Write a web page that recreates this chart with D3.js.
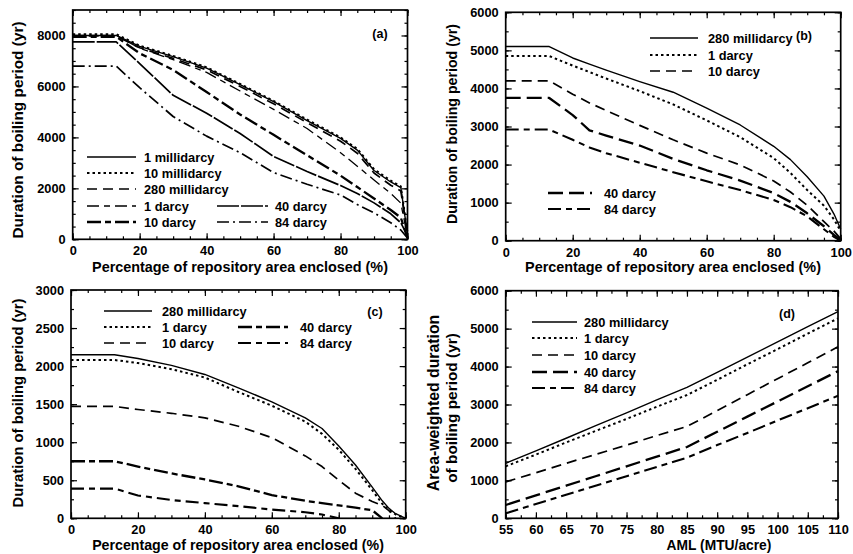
<!DOCTYPE html>
<html><head><meta charset="utf-8">
<script src="https://cdn.jsdelivr.net/npm/d3@7"></script>
<style>
body{margin:0;background:#fff}
svg{display:block}
text{font-family:"Liberation Sans",Arial,sans-serif;font-weight:bold;fill:#000}
</style>
</head><body>
<svg id="chart" width="853" height="554"></svg>
<script>
// ---------- DATA ----------
// Panel (a): x = percentage of repository area enclosed
const pctA   = [0,13,20,30,40,50,60,70,80,85,90,95,98,100];
const a1md   = [8000,8000,7570,7170,6720,6070,5400,4660,3960,3500,2700,2250,2030,200];
const a10md  = [8050,8050,7600,7200,6750,6100,5430,4700,4000,3550,2750,2300,2080,250];
const a280md = [7980,7980,7520,7100,6650,6000,5320,4580,3850,3380,2600,2120,1900,150];
const a1d    = [8000,8000,7500,7050,6550,5820,5100,4350,3400,2870,2330,1800,1420,100];
const a10d   = [7950,7950,7300,6650,5780,4900,4100,3300,2500,2050,1600,1150,850,50];
const a40d   = [7750,7750,6900,5650,4950,4150,3250,2660,2110,1800,1430,1000,650,130];
const a84d   = [6800,6800,5950,4820,4050,3400,2620,2160,1740,1365,1035,650,365,50];

// Panel (b)
const pctB   = [0,13,20,25,30,40,50,60,70,80,85,90,95,98,100];
const b280md = [5100,5100,4800,4640,4480,4180,3900,3480,3040,2480,2130,1680,1170,700,300];
const b1d    = [4850,4850,4600,4430,4260,3930,3580,3160,2720,2170,1780,1330,920,560,250];
const b10d   = [4200,4200,3850,3620,3420,3030,2650,2300,1990,1570,1280,930,500,250,50];
const b40d   = [3750,3750,3300,2900,2760,2500,2150,1850,1580,1250,1020,720,380,150,20];
const b84d   = [2920,2920,2650,2450,2300,2050,1800,1560,1330,1070,880,640,300,100,0];

// Panel (c)
const pctC   = [0,13,20,30,40,50,60,70,75,80,85,90,93,95,97,100];
const c280md = [2150,2150,2100,2010,1890,1715,1530,1320,1180,950,700,410,230,130,60,0];
const c1d    = [2080,2080,2040,1960,1850,1660,1480,1270,1110,900,650,370,190,110,50,0];
const c10d   = [1470,1470,1430,1380,1320,1210,1060,820,680,500,330,220,170,100,0,null];
const c40d   = [750,750,680,590,510,420,305,230,200,170,140,105,0,null,null,null];
const c84d   = [390,390,300,240,200,160,115,80,50,0,null,null,null,null,null,null];

// Panel (d): x = AML (MTU/acre)
const amlD   = [55,60,65,70,75,80,85,90,95,100,105,110];
const d280md = [1450,1780,2110,2450,2780,3120,3450,3850,4250,4650,5050,5450];
const d1d    = [1370,1680,2000,2310,2620,2940,3250,3650,4060,4460,4870,5270];
const d10d   = [960,1200,1450,1690,1930,2180,2420,2840,3260,3680,4100,4520];
const d40d   = [350,605,860,1115,1370,1625,1880,2280,2680,3080,3480,3880];
const d84d   = [130,375,620,865,1110,1355,1600,1930,2250,2580,2900,3230];

const xLabelPct = "Percentage of repository area enclosed (%)";
const yLabelDur = "Duration of boiling period (yr)";

// ---------- STYLES ----------
const ST = {
  solid:   {w:1.4, dash:null},
  solidB:  {w:1.7, dash:"22,2"},
  dot:     {w:2.0, dash:"2.5,3"},
  dash:    {w:1.7, dash:"10,6"},
  dashL:   {w:2.3, dash:"15,6"},
  lsThin:  {w:1.3, dash:"12,5,6,5"},
  lsThick: {w:2.3, dash:"14,4,6,4"},
  dashDot: {w:1.7, dash:"12,4,2,4"},
  lsMed:   {w:2.1, dash:"13,5,6,5"}
};

const svg = d3.select("#chart");

function panel(cfg){
  const g = svg.append("g");
  const x = d3.scaleLinear().domain(cfg.xDom).range([cfg.L, cfg.R]);
  const y = d3.scaleLinear().domain(cfg.yDom).range([cfg.B, cfg.T]);
  const rng = (d, s) => d3.range(d[0], d[1] + s/1000, s);
  const majX = rng(cfg.xDom, cfg.xMaj), minX = rng(cfg.xDom, cfg.xMin);
  const majY = rng(cfg.yDom, cfg.yMaj), minY = rng(cfg.yDom, cfg.yMin);

  const clean = sel => { sel.attr("font-family", null).attr("font-size", null);
    sel.select(".domain").remove(); sel.selectAll("line").attr("stroke-width", 1.2); };

  // minor ticks all sides
  g.append("g").attr("transform", `translate(0,${cfg.B})`).call(d3.axisBottom(x).tickValues(minX).tickSize(-3).tickFormat("")).call(clean);
  g.append("g").attr("transform", `translate(0,${cfg.T})`).call(d3.axisTop(x).tickValues(minX).tickSize(-3).tickFormat("")).call(clean);
  g.append("g").attr("transform", `translate(${cfg.L},0)`).call(d3.axisLeft(y).tickValues(minY).tickSize(-3).tickFormat("")).call(clean);
  g.append("g").attr("transform", `translate(${cfg.R},0)`).call(d3.axisRight(y).tickValues(minY).tickSize(-3).tickFormat("")).call(clean);
  // major ticks
  g.append("g").attr("transform", `translate(0,${cfg.B})`)
    .call(d3.axisBottom(x).tickValues(majX).tickSize(-6).tickPadding(7).tickFormat(d3.format("d"))).call(clean)
    .selectAll("text").style("font-size", "12.8px");
  g.append("g").attr("transform", `translate(0,${cfg.T})`).call(d3.axisTop(x).tickValues(majX).tickSize(-6).tickFormat("")).call(clean);
  g.append("g").attr("transform", `translate(${cfg.L},0)`)
    .call(d3.axisLeft(y).tickValues(majY).tickSize(-6).tickPadding(7).tickFormat(d3.format("d"))).call(clean)
    .selectAll("text").style("font-size", "12.8px");
  g.append("g").attr("transform", `translate(${cfg.R},0)`).call(d3.axisRight(y).tickValues(majY).tickSize(-6).tickFormat("")).call(clean);

  // frame
  g.append("rect").attr("x", cfg.L).attr("y", cfg.T).attr("width", cfg.R - cfg.L).attr("height", cfg.B - cfg.T)
    .attr("fill", "none").attr("stroke", "#000").attr("stroke-width", 1.7);

  // clip
  const cid = "clip" + cfg.id;
  svg.append("clipPath").attr("id", cid).append("rect")
    .attr("x", cfg.L).attr("y", cfg.T - 2).attr("width", cfg.R - cfg.L + 2).attr("height", cfg.B - cfg.T + 2);

  const line = d3.line().defined(d => d[1] != null).x(d => x(d[0])).y(d => y(d[1]));
  cfg.series.forEach(s => {
    const pts = cfg.xs.map((xv, i) => [xv, s.v[i]]);
    g.append("path").datum(pts).attr("d", line).attr("clip-path", `url(#${cid})`)
      .attr("fill", "none").attr("stroke", "#000").attr("stroke-width", s.st.w)
      .attr("stroke-dasharray", s.st.dash).attr("stroke-linejoin", "round");
  });

  // legend
  cfg.legend.forEach(l => {
    const s = cfg.series[l.i];
    g.append("line").attr("x1", l.x1).attr("x2", l.x2).attr("y1", l.y).attr("y2", l.y)
      .attr("stroke", "#000").attr("stroke-width", s.st.w).attr("stroke-dasharray", s.st.dash);
    g.append("text").attr("x", l.tx).attr("y", l.y).attr("dy", "0.36em").style("font-size", "12.8px").text(s.name);
  });

  // panel tag
  g.append("text").attr("x", cfg.tag[0]).attr("y", cfg.tag[1]).attr("text-anchor", "middle")
    .attr("dy", "0.36em").style("font-size", "12.5px").text(cfg.tagText);

  // axis labels
  g.append("text").attr("x", cfg.xl[0]).attr("y", cfg.xl[1]).attr("text-anchor", "middle")
    .style("font-size", cfg.xl[2] + "px").text(cfg.xLabel);
  cfg.yLabels.forEach(yl => {
    g.append("text").attr("transform", `translate(${yl[0]},${yl[1]}) rotate(-90)`)
      .attr("text-anchor", "middle").style("font-size", yl[3] + "px").text(yl[2]);
  });
}

panel({
  id: "a", L: 72.7, R: 407.5, T: 10, B: 239.3, xDom: [0,100], yDom: [0,9000],
  xMaj: 20, xMin: 5, yMaj: 2000, yMin: 500, xs: pctA,
  series: [
    {name: "1 millidarcy", v: a1md, st: ST.solid},
    {name: "10 millidarcy", v: a10md, st: ST.dot},
    {name: "280 millidarcy", v: a280md, st: ST.dash},
    {name: "1 darcy", v: a1d, st: ST.lsThin},
    {name: "10 darcy", v: a10d, st: ST.lsThick},
    {name: "40 darcy", v: a40d, st: ST.solidB},
    {name: "84 darcy", v: a84d, st: ST.dashDot}
  ],
  legend: [
    {i:0, x1:87, x2:136, y:157, tx:144}, {i:1, x1:87, x2:136, y:173, tx:144},
    {i:2, x1:87, x2:136, y:189, tx:144}, {i:3, x1:87, x2:136, y:206, tx:144},
    {i:4, x1:87, x2:136, y:222, tx:144}, {i:5, x1:217, x2:268, y:206, tx:275},
    {i:6, x1:217, x2:268, y:222, tx:275}
  ],
  tag: [380, 33], tagText: "(a)",
  xl: [240, 272, 14.4], xLabel: xLabelPct,
  yLabels: [[23, 130, yLabelDur, 15.4]]
});

panel({
  id: "b", L: 505.7, R: 840.7, T: 12.3, B: 240.7, xDom: [0,100], yDom: [0,6000],
  xMaj: 20, xMin: 5, yMaj: 1000, yMin: 500, xs: pctB,
  series: [
    {name: "280 millidarcy", v: b280md, st: ST.solid},
    {name: "1 darcy", v: b1d, st: ST.dot},
    {name: "10 darcy", v: b10d, st: ST.dash},
    {name: "40 darcy", v: b40d, st: ST.dashL},
    {name: "84 darcy", v: b84d, st: ST.lsMed}
  ],
  legend: [
    {i:0, x1:650, x2:698, y:38, tx:708}, {i:1, x1:650, x2:698, y:55, tx:708},
    {i:2, x1:650, x2:698, y:71, tx:708},
    {i:3, x1:548, x2:592, y:193, tx:604}, {i:4, x1:548, x2:592, y:209, tx:604}
  ],
  tag: [804, 35], tagText: "(b)",
  xl: [673, 272, 14.4], xLabel: xLabelPct,
  yLabels: [[457, 124, yLabelDur, 14.2]]
});

panel({
  id: "c", L: 71, R: 405.7, T: 290, B: 518.3, xDom: [0,100], yDom: [0,3000],
  xMaj: 20, xMin: 5, yMaj: 500, yMin: 250, xs: pctC,
  series: [
    {name: "280 millidarcy", v: c280md, st: ST.solid},
    {name: "1 darcy", v: c1d, st: ST.dot},
    {name: "10 darcy", v: c10d, st: ST.dash},
    {name: "40 darcy", v: c40d, st: ST.lsThick},
    {name: "84 darcy", v: c84d, st: ST.lsMed}
  ],
  legend: [
    {i:0, x1:104, x2:152, y:311, tx:162}, {i:1, x1:104, x2:152, y:327, tx:162},
    {i:2, x1:104, x2:152, y:343, tx:162},
    {i:3, x1:238, x2:288, y:327, tx:300}, {i:4, x1:238, x2:288, y:343, tx:300}
  ],
  tag: [375, 311], tagText: "(c)",
  xl: [238, 549.5, 14.2], xLabel: xLabelPct,
  yLabels: [[23, 403, yLabelDur, 14.8]]
});

panel({
  id: "d", L: 505.7, R: 838, T: 290.7, B: 518.3, xDom: [55,110], yDom: [0,6000],
  xMaj: 5, xMin: 2.5, yMaj: 1000, yMin: 500, xs: amlD,
  series: [
    {name: "280 millidarcy", v: d280md, st: ST.solid},
    {name: "1 darcy", v: d1d, st: ST.dot},
    {name: "10 darcy", v: d10d, st: ST.dash},
    {name: "40 darcy", v: d40d, st: ST.dashL},
    {name: "84 darcy", v: d84d, st: ST.lsMed}
  ],
  legend: [
    {i:0, x1:532, x2:577, y:322, tx:584}, {i:1, x1:532, x2:577, y:338, tx:584},
    {i:2, x1:532, x2:577, y:355, tx:584}, {i:3, x1:532, x2:577, y:372, tx:584},
    {i:4, x1:532, x2:577, y:388, tx:584}
  ],
  tag: [787, 313], tagText: "(d)",
  xl: [719, 549.5, 13.8], xLabel: "AML (MTU/acre)",
  yLabels: [[439, 403, "Area-weighted duration", 15.8], [457, 408, "of boiling period (yr)", 15.4]]
});
</script>
</body></html>
